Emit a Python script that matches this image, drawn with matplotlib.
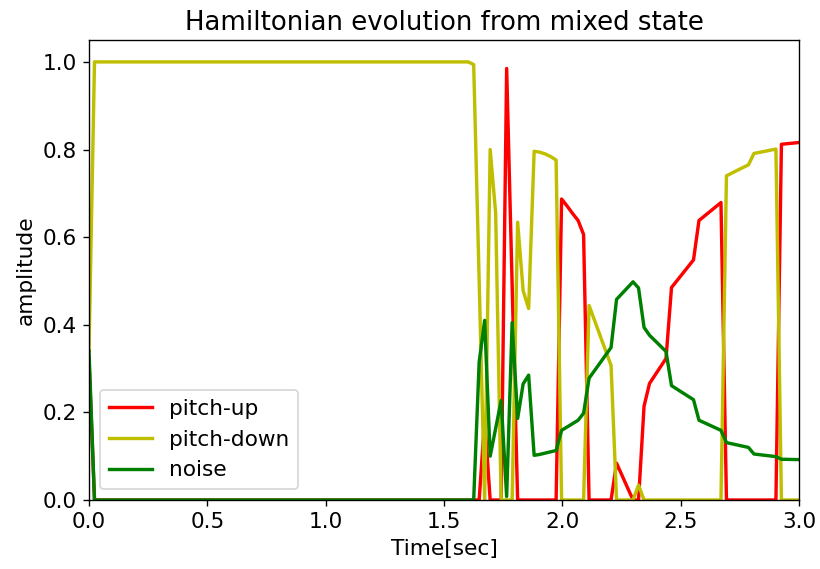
import numpy as np
import matplotlib
matplotlib.use("Agg")
import matplotlib.pyplot as plt

# frame step of the analysis (hop 1024 @ 44.1 kHz)
frame_dt = 1024 / 44100

# pitch-up: (frame index, amplitude) breakpoints
up_frames = [0, 1, 71, 72, 73, 75, 76, 77, 78, 85, 86, 87, 88, 89, 90, 91, 95, 96, 97, 98, 99,
             100, 101, 102, 103, 104, 105, 106, 110, 111, 115, 116, 125, 126, 130]
up_vals = [0.32, 0.0, 0.0, 0.185, 0.0, 0.0, 0.985, 0.49, 0.0, 0.0, 0.687, 0.671, 0.654, 0.638, 0.606,
           0.0, 0.0, 0.084, 0.056, 0.028, 0.0, 0.0, 0.214, 0.266, 0.285, 0.304, 0.323, 0.485, 0.548,
           0.638, 0.679, 0.0, 0.0, 0.812, 0.817]

# pitch-down
down_frames = [0, 1, 69, 70, 71, 72, 73, 74, 75, 77, 78, 79, 80, 81, 82, 83, 84, 85, 86, 90, 91,
               95, 96, 99, 100, 101, 115, 116, 119, 120, 121, 125, 126, 130]
down_vals = [0.34, 1.0, 1.0, 0.994, 0.5, 0.0, 0.80, 0.655, 0.0, 0.0, 0.634, 0.478, 0.437, 0.796,
             0.794, 0.790, 0.784, 0.776, 0.0, 0.0, 0.444, 0.307, 0.0, 0.0, 0.034, 0.0, 0.0, 0.740,
             0.759, 0.765, 0.791, 0.801, 0.0, 0.0]

# noise
noise_frames = [0, 1, 70, 71, 72, 73, 75, 76, 77, 78, 79, 80, 81, 82, 83, 84, 85, 86, 89, 90, 91,
                95, 96, 99, 100, 101, 102, 105, 106, 110, 111, 115, 116, 120, 121, 125, 126, 130]
noise_vals = [0.34, 0.0, 0.0, 0.315, 0.41, 0.10, 0.227, 0.008, 0.405, 0.186, 0.265, 0.285, 0.102,
              0.104, 0.107, 0.110, 0.113, 0.159, 0.182, 0.198, 0.278, 0.348, 0.458, 0.498, 0.484,
              0.394, 0.376, 0.339, 0.261, 0.229, 0.182, 0.159, 0.131, 0.120, 0.105, 0.099, 0.093,
              0.092]

plt.rcParams['font.size'] = 12.8

dpi = 122
fig = plt.figure(figsize=(820 / dpi, 569 / dpi), dpi=dpi)
ax = fig.add_axes([89 / 820, 1 - 500 / 569, 710 / 820, 460 / 569])

ax.plot(np.array(up_frames) * frame_dt, up_vals, color='r', lw=2, label='pitch-up')
ax.plot(np.array(down_frames) * frame_dt, down_vals, color='y', lw=2, label='pitch-down')
ax.plot(np.array(noise_frames) * frame_dt, noise_vals, color='g', lw=2, label='noise')

ax.set_xlim(0, 3.0)
ax.set_ylim(0, 1.05)
ax.set_title('Hamiltonian evolution from mixed state')
ax.set_xlabel('Time[sec]')
ax.set_ylabel('amplitude')
ax.legend(loc='lower left')

fig.savefig('out.png', dpi=dpi)
